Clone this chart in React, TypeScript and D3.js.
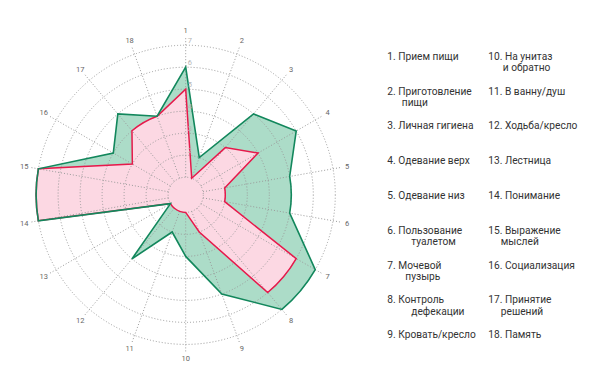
import React from "react";
import * as d3 from "d3";

// scores per activity, 1..7
const axes = d3.range(1, 19).map(String);
const before = [6, 2, 5, 6, 5, 5, 7, 7, 5, 3, 2, 4, 1, 7, 7, 4, 5, 4];
const after = [5, 1, 3, 4, 2, 2, 6, 6, 2, 1, 1, 1, 1, 7, 7, 3, 4, 4];
const levels = [1, 2, 3, 4, 5, 6, 7];
const tickLabels = ["2", "3", "4", "5", "6", "7"];

const labels = [
  ["1. Прием пищи"],
  ["2. Приготовление", "пищи"],
  ["3. Личная гигиена"],
  ["4. Одевание верх"],
  ["5. Одевание низ"],
  ["6. Пользование", "туалетом"],
  ["7. Мочевой", "пузырь"],
  ["8. Контроль", "дефекации"],
  ["9. Кровать/кресло"],
  ["10. На унитаз", "и обратно"],
  ["11. В ванну/душ"],
  ["12. Ходьба/кресло"],
  ["13. Лестница"],
  ["14. Понимание"],
  ["15. Выражение", "мыслей"],
  ["16. Социализация"],
  ["17. Принятие", "решений"],
  ["18. Память"],
];

// indent of the second line, by label
const wrapIndent = [0, 14.5, 0, 0, 0, 24, 18, 24, 0, 14.5, 0, 0, 0, 0, 12.5, 0, 12.5, 0];

const cx = 185.7;
const cy = 194.8;
const green = "#12875c";
const greenFill = "#acdcc8";
const red = "#e6194b";
const pinkFill = "#fcd8e3";
const font = "Roboto, 'Noto Sans', sans-serif";

const r = d3.scaleLinear().domain([1, 7]).range([17.6, 149.6]);
const angle = d3
  .scaleLinear()
  .domain([0, axes.length])
  .range([0, 2 * Math.PI]);

// straight edges, but two equal neighbours are joined along their ring
function radarPath(values: number[]) {
  const n = values.length;
  const p = d3.path();
  const xy = (i: number) => {
    const a = angle(i);
    const rr = r(values[i % n]);
    return [Math.sin(a) * rr, -Math.cos(a) * rr];
  };
  const [x0, y0] = xy(0);
  p.moveTo(x0, y0);
  for (let i = 0; i < n; i++) {
    const v0 = values[i];
    const v1 = values[(i + 1) % n];
    if (v0 === v1) {
      // d3 arc angles start at 3 o'clock
      p.arc(0, 0, r(v0), angle(i) - Math.PI / 2, angle(i + 1) - Math.PI / 2);
    } else {
      const [x, y] = xy(i + 1);
      p.lineTo(x, y);
    }
  }
  p.closePath();
  return p.toString();
}

export default function App() {
  const grid = "#9a9a9a";
  const rowY = (i: number) => 55.7 + i * 34.8;

  return (
    <svg
      width={600}
      height={386}
      style={{ position: "absolute", left: 0, top: 0, background: "#fff" }}
      fontFamily={font}
    >
      <g transform={`translate(${cx},${cy})`}>
        <path d={radarPath(before)} fill={greenFill} />
        <path d={radarPath(after)} fill={pinkFill} />

        {levels.map((l) => (
          <circle
            key={l}
            r={r(l)}
            fill="none"
            stroke={grid}
            strokeWidth={1}
            strokeDasharray="1 2"
          />
        ))}
        {axes.map((a, i) => {
          const ang = angle(i);
          const s = Math.sin(ang);
          const c = -Math.cos(ang);
          return (
            <line
              key={a}
              x1={s * r(1)}
              y1={c * r(1)}
              x2={s * 157}
              y2={c * 157}
              stroke={grid}
              strokeWidth={1}
              strokeDasharray="1 2"
            />
          );
        })}

        <path d={radarPath(after)} fill="none" stroke={red} strokeWidth={1.5} strokeLinejoin="miter" />
        <path d={radarPath(before)} fill="none" stroke={green} strokeWidth={1.6} strokeLinejoin="miter" />

        {tickLabels.map((t) => (
          <text key={t} x={2} y={-r(+t) - 2.5} fontSize={7.5} fill="#b5b5b5">
            {t}
          </text>
        ))}

        {axes.map((a, i) => {
          const ang = angle(i);
          return (
            <text
              key={a}
              x={Math.sin(ang) * 164}
              y={-Math.cos(ang) * 164}
              fontSize={7.5}
              fill="#666"
              textAnchor="middle"
              dominantBaseline="central"
            >
              {a}
            </text>
          );
        })}
      </g>

      <g fontSize={10.2} fill="#333">
        {labels.map((lines, i) => {
          const col = i < 9 ? 0 : 1;
          const x = col === 0 ? 387.3 : 488.3;
          const y = rowY(i % 9);
          return (
            <text key={i} x={x} y={y} dominantBaseline="central">
              {lines.map((ln, j) => (
                <tspan key={j} x={j === 0 ? x : x + wrapIndent[i]} dy={j === 0 ? 0 : 11.2}>
                  {ln}
                </tspan>
              ))}
            </text>
          );
        })}
      </g>
    </svg>
  );
}
